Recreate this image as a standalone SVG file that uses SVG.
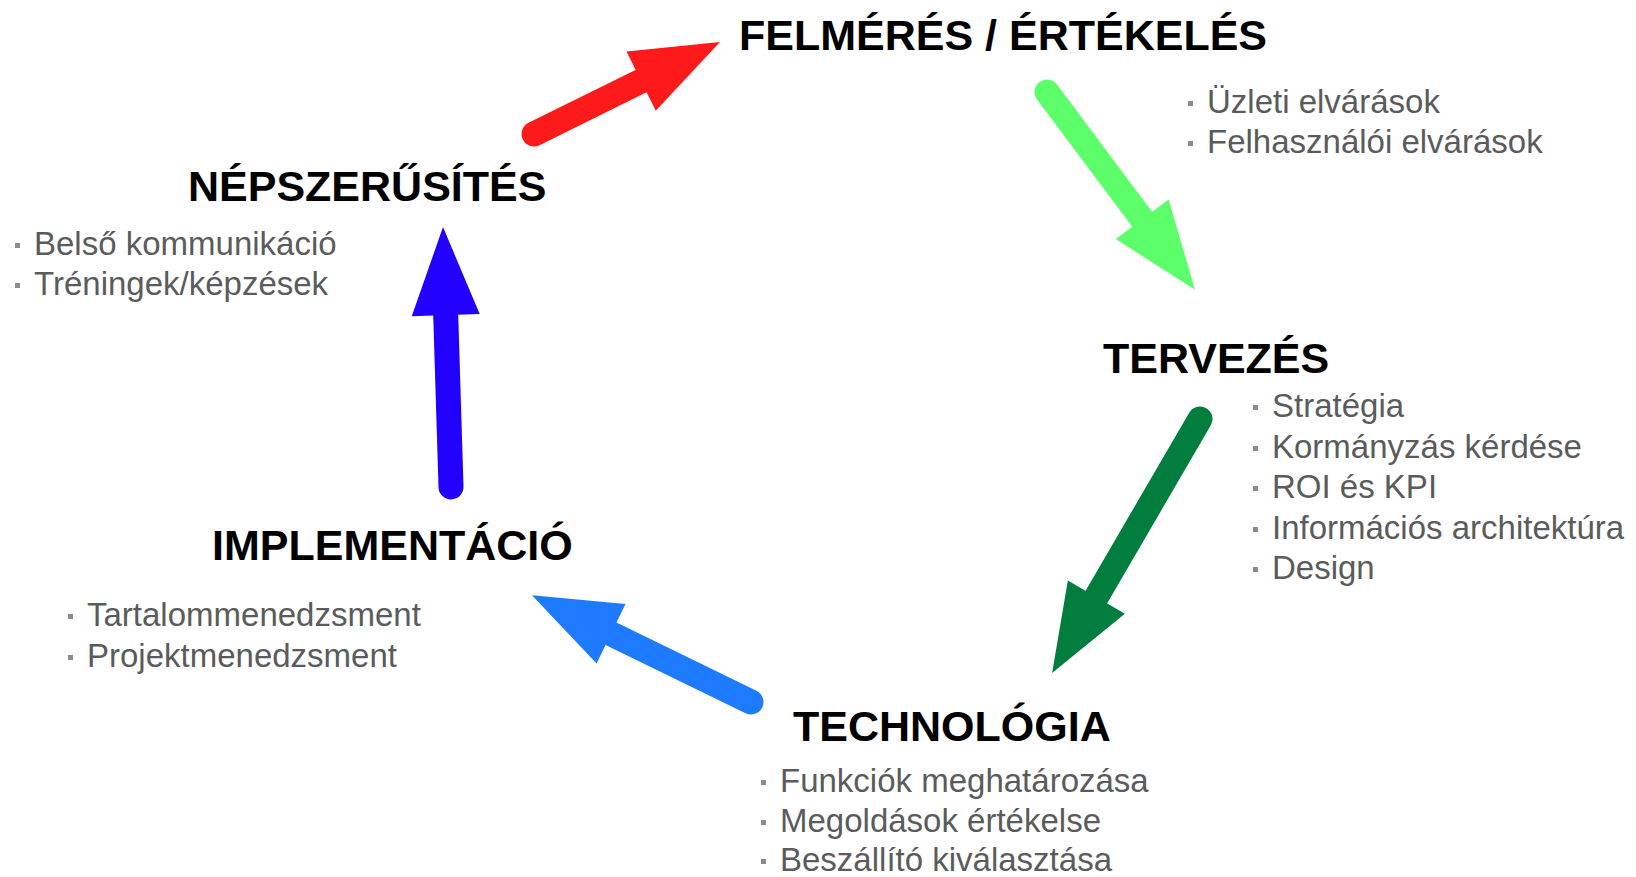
<svg xmlns="http://www.w3.org/2000/svg" width="1636" height="877" viewBox="0 0 1636 877">
<style>
.t{font-family:"Liberation Sans",Arial,sans-serif;font-weight:bold;font-size:43px;fill:#000}
.s{font-family:"Liberation Sans",Arial,sans-serif;font-size:33px;fill:#5a5c5c}
.b{fill:#8a8c8c}
.shaft{stroke-width:25;stroke-linecap:round;fill:none}
</style>
<rect width="1636" height="877" fill="#fff"/>
<g id="connectors">
  <g transform="translate(534,134) rotate(-26.3)">
    <line class="shaft" x1="0" y1="0" x2="125" y2="0" stroke="#fe1a1a"/>
    <polygon points="207.5,0 119.5,-33 119.5,33" fill="#fe1a1a"/>
  </g>
  <g transform="translate(1047,92) rotate(53.2)">
    <line class="shaft" x1="0" y1="0" x2="165" y2="0" stroke="#5cff6a"/>
    <polygon points="247,0 159,-33 159,33" fill="#5cff6a"/>
  </g>
  <g transform="translate(1200,419) rotate(120.2)">
    <line class="shaft" x1="0" y1="0" x2="212" y2="0" stroke="#017d3e"/>
    <polygon points="294,0 206,-33 206,33" fill="#017d3e"/>
  </g>
  <g transform="translate(751,702) rotate(206)">
    <line class="shaft" x1="0" y1="0" x2="162" y2="0" stroke="#1e7bff"/>
    <polygon points="243.7,0 155.7,-33 155.7,33" fill="#1e7bff"/>
  </g>
  <g transform="translate(451,487) rotate(-91.76)">
    <line class="shaft" x1="0" y1="0" x2="178" y2="0" stroke="#2200ff"/>
    <polygon points="260,0 172,-34 172,34" fill="#2200ff"/>
  </g>
</g>
<g id="felmeres">
  <text class="t" x="739" y="50">FELMÉRÉS / ÉRTÉKELÉS</text>
  <rect class="b" x="1188" y="101" width="5" height="5"/>
  <text class="s" x="1207" y="113">Üzleti elvárások</text>
  <rect class="b" x="1188" y="141" width="5" height="5"/>
  <text class="s" x="1207" y="153">Felhasználói elvárások</text>
</g>
<g id="tervezes">
  <text class="t" x="1103" y="373">TERVEZÉS</text>
  <rect class="b" x="1253" y="405" width="5" height="5"/>
  <text class="s" x="1272" y="417">Stratégia</text>
  <rect class="b" x="1253" y="446" width="5" height="5"/>
  <text class="s" x="1272" y="458">Kormányzás kérdése</text>
  <rect class="b" x="1253" y="486" width="5" height="5"/>
  <text class="s" x="1272" y="498">ROI és KPI</text>
  <rect class="b" x="1253" y="527" width="5" height="5"/>
  <text class="s" x="1272" y="539">Információs architektúra</text>
  <rect class="b" x="1253" y="567" width="5" height="5"/>
  <text class="s" x="1272" y="579">Design</text>
</g>
<g id="technologia">
  <text class="t" x="793" y="741">TECHNOLÓGIA</text>
  <rect class="b" x="761" y="780" width="5" height="5"/>
  <text class="s" x="780" y="792">Funkciók meghatározása</text>
  <rect class="b" x="761" y="820" width="5" height="5"/>
  <text class="s" x="780" y="832">Megoldások értékelse</text>
  <rect class="b" x="761" y="859" width="5" height="5"/>
  <text class="s" x="780" y="871">Beszállító kiválasztása</text>
</g>
<g id="implementacio">
  <text class="t" x="212" y="560">IMPLEMENTÁCIÓ</text>
  <rect class="b" x="68" y="614" width="5" height="5"/>
  <text class="s" x="87" y="626">Tartalommenedzsment</text>
  <rect class="b" x="68" y="655" width="5" height="5"/>
  <text class="s" x="87" y="667">Projektmenedzsment</text>
</g>
<g id="nepszerusites">
  <text class="t" x="188" y="201">NÉPSZERŰSÍTÉS</text>
  <rect class="b" x="15" y="243" width="5" height="5"/>
  <text class="s" x="34" y="255">Belső kommunikáció</text>
  <rect class="b" x="15" y="283" width="5" height="5"/>
  <text class="s" x="34" y="295">Tréningek/képzések</text>
</g>
</svg>
